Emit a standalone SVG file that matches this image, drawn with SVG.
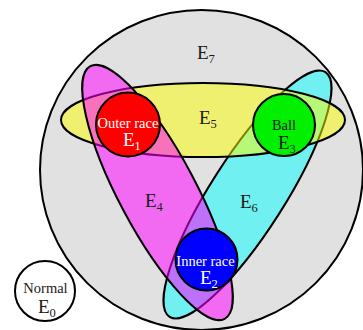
<svg xmlns="http://www.w3.org/2000/svg" width="363" height="330" viewBox="0 0 363 330">
<style>
.ol{stroke:#000;stroke-width:2}
.t{font-family:"Liberation Serif","Times New Roman",serif;fill:#1a1a1a}
.w{fill:#fff}
.E{font-size:19px}
.s{font-size:12.5px}
.lb{font-size:14.5px;text-anchor:middle}
</style>
<rect width="363" height="330" fill="#fff"/>
<g id="E7">
<ellipse class="ol" cx="201.5" cy="170" rx="161.5" ry="160" fill="#e1e1e1"/>
<text class="t E" x="197" y="59">E<tspan class="s" dy="4">7</tspan></text>
</g>
<g id="E0">
<circle class="ol" cx="45" cy="291" r="30" fill="#fff"/>
<text class="t lb" x="45.5" y="293">Normal</text>
<text class="t E" x="38" y="313">E<tspan class="s" dy="4">0</tspan></text>
</g>
<g id="E6">
<ellipse class="ol" cx="247.5" cy="194.5" rx="145" ry="37" transform="rotate(-57.5 247.5 194.5)" fill="#00ffff" fill-opacity="0.5"/>
<text class="t E" x="240" y="208">E<tspan class="s" dy="4">6</tspan></text>
</g>
<g id="E5">
<ellipse class="ol" cx="203" cy="120" rx="142" ry="37" fill="#ffff00" fill-opacity="0.5"/>
<text class="t E" x="199" y="124">E<tspan class="s" dy="4">5</tspan></text>
</g>
<g id="E4">
<ellipse class="ol" cx="157.5" cy="192.5" rx="143" ry="38.5" transform="rotate(62 157.5 192.5)" fill="#ff00ff" fill-opacity="0.53"/>
<text class="t E" x="145" y="207">E<tspan class="s" dy="4">4</tspan></text>
</g>
<g id="E1">
<circle class="ol" cx="128" cy="124.5" r="32" fill="#ff0000"/>
<text class="t w lb" x="128" y="128">Outer race</text>
<text class="t w E" x="123" y="146">E<tspan class="s" dy="4">1</tspan></text>
</g>
<g id="E3">
<circle class="ol" cx="284" cy="125" r="31" fill="#00f000"/>
<text class="t lb" x="284" y="130">Ball</text>
<text class="t E" x="278" y="149">E<tspan class="s" dy="4">3</tspan></text>
</g>
<g id="E2">
<circle class="ol" cx="206.5" cy="259.5" r="31" fill="#0000ff"/>
<text class="t w lb" x="205.5" y="265.5">Inner race</text>
<text class="t w E" x="200" y="284">E<tspan class="s" dy="4">2</tspan></text>
</g>
<g id="connectors"></g>
</svg>
